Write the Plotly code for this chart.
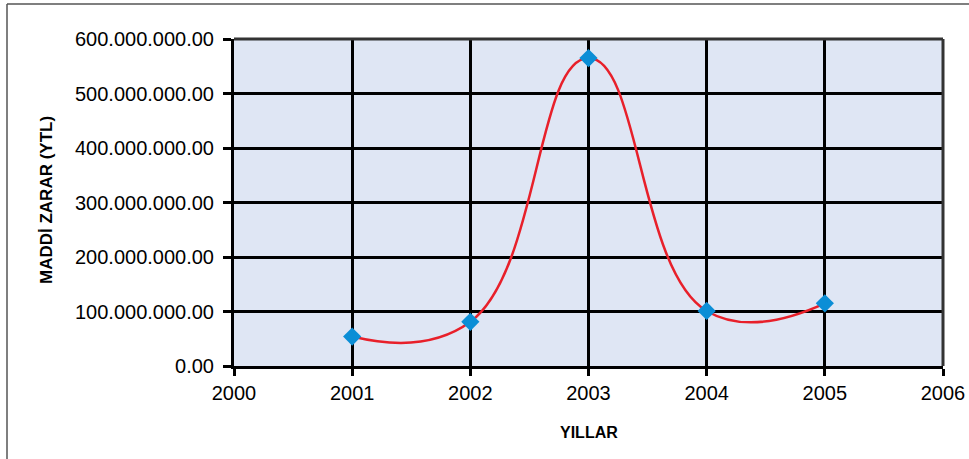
import plotly.graph_objects as go

years = [2001, 2002, 2003, 2004, 2005]
losses = [54_000_000, 81_000_000, 565_000_000, 101_000_000, 115_000_000]

y_tick_vals = [0, 100_000_000, 200_000_000, 300_000_000, 400_000_000, 500_000_000, 600_000_000]
y_tick_text = ["0.00", "100.000.000.00", "200.000.000.00", "300.000.000.00",
               "400.000.000.00", "500.000.000.00", "600.000.000.00"]
x_tick_vals = [2000, 2001, 2002, 2003, 2004, 2005, 2006]

fig = go.Figure()
fig.add_trace(go.Scatter(
    x=years, y=losses, mode="lines+markers",
    line=dict(color="#e8202a", width=2.5, shape="spline", smoothing=1.3),
    marker=dict(symbol="diamond", size=14, color="#0b8ed6", line=dict(width=0)),
    showlegend=False,
))

W, H = 969, 459
L, R, T, B = 234, 26, 39, 93
pw, ph = W - L - R, H - T - B

fig.update_layout(
    width=W, height=H,
    margin=dict(l=L, r=R, t=T, b=B),
    paper_bgcolor="white",
    plot_bgcolor="#dfe6f4",
    font=dict(family="Liberation Sans, Arial, sans-serif", color="black"),
    xaxis=dict(
        range=[2000, 2006], tickvals=x_tick_vals, ticktext=[str(v) for v in x_tick_vals],
        showgrid=True, gridcolor="black", gridwidth=2.5,
        showline=True, linecolor="black", linewidth=3,
        ticks="outside", ticklen=7, tickwidth=2.5, tickcolor="black",
        tickfont=dict(size=20), zeroline=False, fixedrange=True, automargin=False,
    ),
    yaxis=dict(
        range=[0, 600_000_000], tickvals=y_tick_vals, ticktext=y_tick_text,
        showgrid=True, gridcolor="black", gridwidth=2.5,
        showline=True, linecolor="black", linewidth=3,
        ticks="outside", ticklen=8, tickwidth=2.5, tickcolor="black",
        tickfont=dict(size=20), ticklabelstandoff=5, zeroline=False, fixedrange=True,
        automargin=False,
    ),
    shapes=[
        dict(type="line", xref="paper", yref="paper", x0=0, x1=1, y0=1, y1=1,
             line=dict(color="#333333", width=3)),
        dict(type="line", xref="paper", yref="paper", x0=1, x1=1, y0=0, y1=1,
             line=dict(color="#333333", width=3)),
        dict(type="line", xref="paper", yref="paper",
             x0=(7 - L) / pw, x1=(7 - L) / pw, y0=1 + (T - 4) / ph, y1=-(H + 5 - T - ph) / ph,
             line=dict(color="#555555", width=1.5)),
        dict(type="line", xref="paper", yref="paper",
             x0=(7 - L) / pw, x1=(W + 5 - L) / pw, y0=1 + (T - 4) / ph, y1=1 + (T - 4) / ph,
             line=dict(color="#555555", width=1.5)),
    ],
    annotations=[
        dict(text="<b>YILLAR</b>", xref="paper", yref="paper",
             x=0.5, y=-(432 - T - ph) / ph, showarrow=False,
             font=dict(size=16), xanchor="center", yanchor="middle"),
        dict(text="<b>MADDİ ZARAR (YTL)</b>", xref="paper", yref="paper",
             x=(46 - L) / pw, y=1 - (200 - T) / ph, showarrow=False, textangle=-90,
             font=dict(size=17), xanchor="center", yanchor="middle"),
    ],
)

fig.write_html("out.html", config={"displayModeBar": False},
               post_script="document.body.style.margin='0';")
